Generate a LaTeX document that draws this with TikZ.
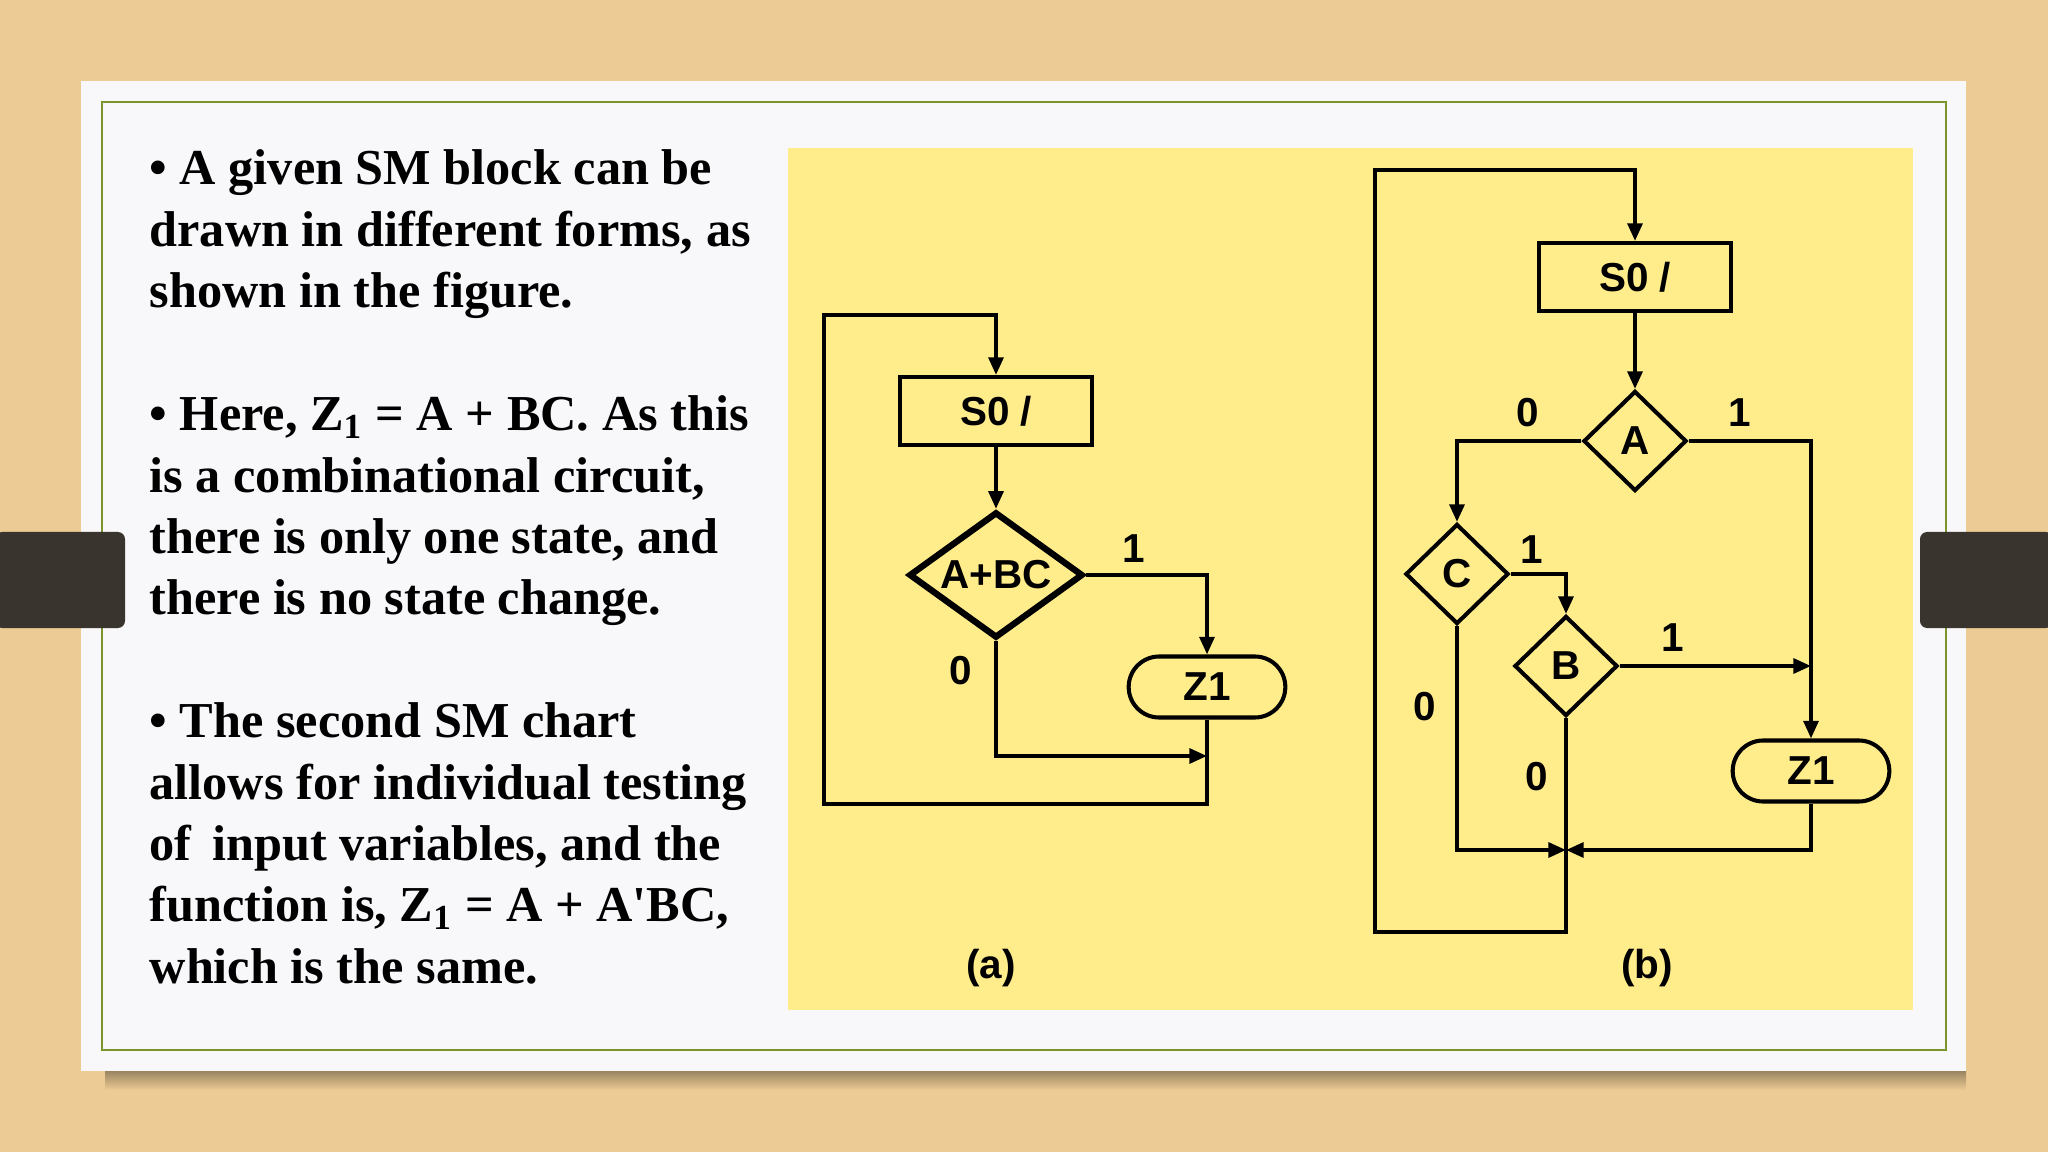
\documentclass[tikz,border=0pt]{standalone}
\usepackage{fontspec}
\setmainfont{Liberation Serif}
\newfontfamily\chartfont{Liberation Sans}
\usetikzlibrary{arrows.meta}
\usetikzlibrary{shapes.geometric}
\usetikzlibrary{shapes.misc}

\definecolor{wood}{RGB}{236,203,148}
\definecolor{card}{RGB}{248,248,250}
\definecolor{frame}{RGB}{122,148,48}
\definecolor{panel}{RGB}{255,237,140}
\definecolor{strap}{RGB}{58,52,46}

\tikzset{
  chartfont/.style={font={\chartfont\fontsize{11.5}{13}\selectfont\bfseries}},
  statebox/.style={draw, chartfont, line width=1.15pt, minimum width=1.92cm, minimum height=0.68cm},
  condbox/.style={draw, diamond, chartfont, line width=1.15pt, inner sep=0pt, minimum width=1.03cm, minimum height=1.0cm},
  outbox/.style={draw, rounded rectangle, chartfont, line width=1.15pt, minimum width=1.8cm, minimum height=0.61cm},
  wire/.style={line width=1.05pt},
  arrowline/.style={wire, -{Triangle[length=5pt,width=4.2pt]}},
  bitlabel/.style={chartfont},
  bodytext/.style={anchor=base west, inner sep=0pt, font={\fontsize{14.3}{17.5}\selectfont\bfseries}},
}

\begin{document}
\begin{tikzpicture}[x=0.01cm, y=-0.01cm]
\useasboundingbox (0,0) rectangle (2048,1152);
% slide background
\fill[wood] (0,0) rectangle (2048,1152);
\shade[top color=black!35!wood, bottom color=wood] (105,1071) rectangle (1966,1090);
\fill[card] (81,81) rectangle (1966,1071);
\draw[frame, line width=0.8pt] (102,102) rectangle (1946,1050);
\fill[strap, rounded corners=2pt] (-5,532) rectangle (125,628);
\fill[strap, rounded corners=2pt] (1920,532) rectangle (2053,628);
\fill[panel] (788,148) rectangle (1913,1010);

% bullet text
\foreach \row/\txt in {
  0/{\textbullet\ A given SM block can be},
  1/{drawn in different forms, as},
  2/{shown in the figure.},
  4/{\textbullet\ Here, Z\textsubscript{1} = A + BC. As this},
  5/{is a combinational circuit,},
  6/{there is only one state, and},
  7/{there is no state change.},
  9/{\textbullet\ The second SM chart},
  10/{allows for individual testing},
  11/{of\, input variables, and the},
  12/{function is, Z\textsubscript{1} = A + A\textquotesingle BC,},
  13/{which is the same.}}
  \node[bodytext] (line\row) at (149,{185+61.4*\row}) {\txt};

% chart (a)
\node[statebox] (s0a) at (996,411) {S0 /};
\node[condbox, line width=1.8pt, aspect=1.4, minimum width=1.74cm, minimum height=1.26cm] (abc) at (996,575) {A+BC};
\node[outbox] (z1a) at (1207,687) {Z1};
\coordinate (a-top) at (824,315);
\coordinate (a-join) at (1207,756);
\coordinate (a-bot) at (824,804);

\draw[arrowline] (s0a) -- (abc);
\draw[arrowline] (abc.east) -| (z1a.north);
\draw[arrowline] (abc.south) |- (a-join);
\draw[arrowline] (z1a.south) |- (a-bot) -- (a-top) -| (s0a.north);

\node[bitlabel] (a-one) at (1134,549) {1};
\node[bitlabel] (a-zero) at (961,671) {0};
\node[bitlabel] (cap-a) at (991,968) {(a)};

% chart (b)
\node[statebox] (s0b) at (1635,277) {S0 /};
\node[condbox] (ca) at (1635,441) {A};
\node[condbox] (cc) at (1457,574) {C};
\node[condbox] (cb) at (1566,666) {B};
\node[outbox] (z1b) at (1811,771) {Z1};
\coordinate (b-top) at (1375,170);
\coordinate (b-bot) at (1375,932);
\coordinate (b-join) at (1566,850);
\coordinate (b-mid) at (z1b.north |- cb.east);

\draw[arrowline] (s0b) -- (ca);
\draw[arrowline] (ca.west) -| (cc.north);
\draw[arrowline] (ca.east) -| (z1b.north);
\draw[arrowline] (cc.east) -| (cb.north);
\draw[arrowline] (cb.east) -- (b-mid);
\draw[arrowline] (cc.south) |- (b-join);
\draw[arrowline] (z1b.south) |- (b-join);
\draw[arrowline] (cb.south) |- (b-bot) -- (b-top) -| (s0b.north);

\node[bitlabel] (ca-zero) at (1528,413) {0};
\node[bitlabel] (ca-one) at (1740,413) {1};
\node[bitlabel] (cc-one) at (1532,550) {1};
\node[bitlabel] (cb-one) at (1673,638) {1};
\node[bitlabel] (cc-zero) at (1425,707) {0};
\node[bitlabel] (cb-zero) at (1537,777) {0};
\node[bitlabel] (cap-b) at (1647,968) {(b)};
\end{tikzpicture}
\end{document}
